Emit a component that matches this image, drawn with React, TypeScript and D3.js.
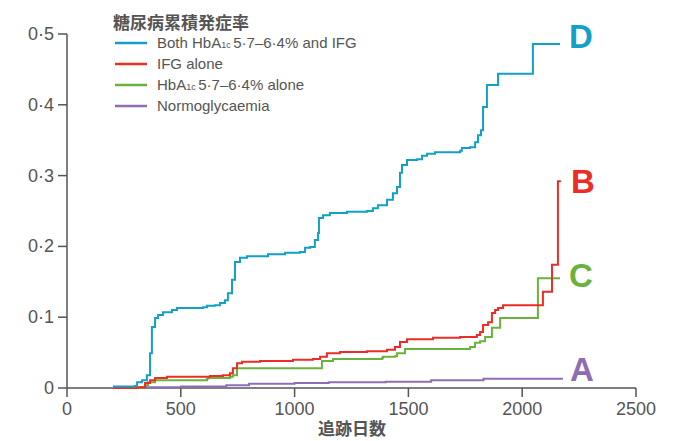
import React from "react";
import * as d3 from "d3";

// ---- Data ----
const seriesNames = ["Both HbA1c 5·7–6·4% and IFG", "IFG alone", "HbA1c 5·7–6·4% alone", "Normoglycaemia"];
const seriesLetters = ["D", "B", "C", "A"];

const bothDays = [202, 299, 308, 330, 351, 365, 373, 387, 400, 422, 461, 483, 598, 615, 650, 672, 694, 707, 725, 738, 760, 791, 883, 958, 1024, 1046, 1068, 1089, 1103, 1107, 1125, 1155, 1230, 1318, 1344, 1366, 1406, 1432, 1450, 1463, 1472, 1494, 1538, 1560, 1582, 1617, 1727, 1735, 1771, 1793, 1806, 1819, 1828, 1845, 1894, 2047, 2166];
const bothRisk = [0.002, 0.003, 0.008, 0.011, 0.018, 0.049, 0.086, 0.099, 0.103, 0.107, 0.110, 0.113, 0.114, 0.116, 0.117, 0.120, 0.124, 0.134, 0.153, 0.178, 0.184, 0.186, 0.189, 0.191, 0.192, 0.198, 0.199, 0.209, 0.219, 0.240, 0.244, 0.247, 0.249, 0.250, 0.254, 0.258, 0.266, 0.275, 0.284, 0.304, 0.315, 0.322, 0.323, 0.328, 0.331, 0.333, 0.335, 0.339, 0.340, 0.347, 0.357, 0.364, 0.397, 0.428, 0.444, 0.486, 0.486];

const ifgDays = [202, 312, 343, 365, 387, 439, 628, 685, 716, 729, 747, 769, 848, 993, 1081, 1112, 1142, 1199, 1318, 1406, 1441, 1463, 1494, 1608, 1727, 1801, 1815, 1828, 1850, 1867, 1881, 1894, 1916, 2091, 2131, 2157, 2170];
const ifgRisk = [0.0, 0.001, 0.007, 0.011, 0.014, 0.016, 0.017, 0.018, 0.021, 0.028, 0.035, 0.037, 0.038, 0.040, 0.041, 0.044, 0.049, 0.051, 0.052, 0.054, 0.058, 0.065, 0.069, 0.071, 0.072, 0.075, 0.079, 0.089, 0.093, 0.106, 0.110, 0.113, 0.117, 0.136, 0.174, 0.292, 0.292];

const hbaDays = [202, 321, 343, 356, 387, 615, 620, 716, 729, 747, 1120, 1169, 1384, 1388, 1441, 1450, 1485, 1771, 1793, 1815, 1837, 1867, 1903, 2069, 2166];
const hbaRisk = [0.0, 0.001, 0.004, 0.008, 0.011, 0.013, 0.014, 0.016, 0.018, 0.028, 0.038, 0.041, 0.042, 0.044, 0.045, 0.049, 0.055, 0.058, 0.064, 0.066, 0.072, 0.085, 0.099, 0.155, 0.155];

const normDays = [202, 330, 500, 700, 800, 1000, 1150, 1400, 1600, 1830, 2179];
const normRisk = [0.0, 0.001, 0.002, 0.004, 0.006, 0.007, 0.008, 0.009, 0.011, 0.013, 0.013];

const xTicks = [0, 500, 1000, 1500, 2000, 2500];
const yTicks = [0, 0.1, 0.2, 0.3, 0.4, 0.5];
const yTitle = "糖尿病累積発症率";
const xTitle = "追跡日数";

// ---- Styles ----
const colors = ["#12a0c6", "#ec2d26", "#6ab23e", "#8f6db5"];
const letterDy = [-7.5, 0, -3, -9];
const letterDx = [9, 10, 9, 7];
const gray = "#555";
const latin = "'Liberation Sans', Arial, Helvetica, sans-serif";
const cjk = "'Noto Sans CJK JP', 'Noto Sans', sans-serif";

export default function App() {
  const width = 675;
  const height = 441;
  const x = d3.scaleLinear().domain([0, 2500]).range([67, 636]);
  const y = d3.scaleLinear().domain([0, 0.5]).range([388, 34]);

  const series = [
    { days: bothDays, risk: bothRisk },
    { days: ifgDays, risk: ifgRisk },
    { days: hbaDays, risk: hbaRisk },
    { days: normDays, risk: normRisk },
  ];

  const line = d3
    .line<[number, number]>()
    .x((d) => x(d[0]))
    .y((d) => y(d[1]))
    .curve(d3.curveStepAfter);

  const drawOrder = [3, 2, 1, 0];

  return (
    <svg width={width} height={height} style={{ display: "block", position: "absolute", left: 0, top: 0 }}>
      <rect x={0} y={0} width={width} height={height} fill="#fff" />
      {/* axes */}
      <line x1={x(0)} x2={x(0)} y1={y(0.5)} y2={y(0)} stroke={gray} strokeWidth={1.5} />
      <line x1={x(0)} x2={x(2500)} y1={y(0)} y2={y(0)} stroke={gray} strokeWidth={1.5} />
      {yTicks.map((t) => (
        <g key={"y" + t}>
          <line x1={x(0) - 9} x2={x(0)} y1={y(t)} y2={y(t)} stroke={gray} strokeWidth={1.5} />
          <text
            x={x(0) - 13}
            y={y(t)}
            textAnchor="end"
            dominantBaseline="central"
            fontFamily={latin}
            fontSize={18}
            fill={gray}
          >
            {t === 0 ? "0" : d3.format(".1f")(t).replace(".", "·")}
          </text>
        </g>
      ))}
      {xTicks.map((t) => (
        <g key={"x" + t}>
          <line x1={x(t)} x2={x(t)} y1={y(0)} y2={y(0) + 9} stroke={gray} strokeWidth={1.5} />
          <text x={x(t)} y={415} textAnchor="middle" fontFamily={latin} fontSize={18} fill={gray}>
            {t}
          </text>
        </g>
      ))}
      <text x={352} y={435} textAnchor="middle" fontFamily={cjk} fontWeight="bold" fontSize={17} fill={gray}>
        {xTitle}
      </text>

      {/* curves */}
      {drawOrder.map((i) => {
        const s = series[i];
        const pts: [number, number][] = s.days.map((d, k) => [d, s.risk[k]]);
        return <path key={"s" + i} d={line(pts) || ""} fill="none" stroke={colors[i]} strokeWidth={2} />;
      })}

      {/* end letters */}
      {series.map((s, i) => {
        const lastD = s.days[s.days.length - 1];
        const lastR = s.risk[s.risk.length - 1];
        return (
          <text
            key={"l" + i}
            x={x(lastD) + letterDx[i]}
            y={y(lastR) + letterDy[i]}
            dominantBaseline="central"
            fontFamily={latin}
            fontWeight="bold"
            fontSize={33}
            fill={colors[i]}
          >
            {seriesLetters[i]}
          </text>
        );
      })}

      {/* legend */}
      <text x={113} y={29} fontFamily={cjk} fontWeight="bold" fontSize={17} fill={gray}>
        {yTitle}
      </text>
      {seriesNames.map((n, i) => {
        const yy = 43 + i * 21;
        const parts = n.split("1c");
        return (
          <g key={"lg" + i}>
            <line x1={115} x2={147} y1={yy} y2={yy} stroke={colors[i]} strokeWidth={2.5} />
            <text x={157} y={yy + 5} fontFamily={latin} fontSize={15} fill={gray}>
              {parts.length > 1 ? (
                <>
                  {parts[0]}
                  <tspan fontSize={9}>1c </tspan>
                  {parts[1].trimStart()}
                </>
              ) : (
                n
              )}
            </text>
          </g>
        );
      })}
    </svg>
  );
}
